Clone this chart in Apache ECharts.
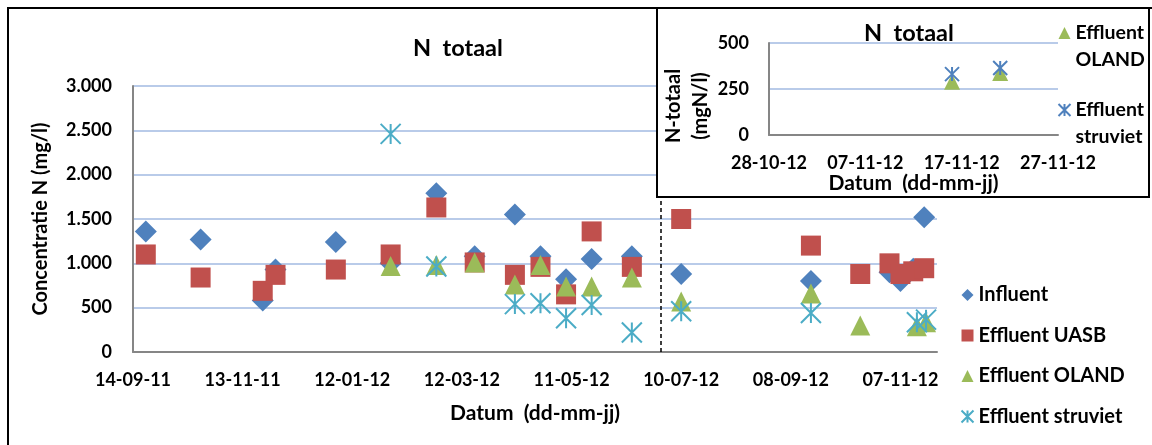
<!DOCTYPE html>
<html>
<head>
<meta charset="utf-8">
<script src="https://cdn.jsdelivr.net/npm/echarts@6/dist/echarts.min.js"></script>
<style>
  html, body { margin: 0; padding: 0; background: #fff; }
  #chart { width: 1152px; height: 445px; }
</style>
</head>
<body>
<div id="chart"></div>
<script>
// main chart data (dates dd-mm-yy)
const influentDates = ['21-09-11', '21-10-11', '24-11-11', '01-12-11', '03-01-12', '02-02-12', '27-02-12', '19-03-12', '10-04-12', '24-04-12', '08-05-12', '22-05-12', '13-06-12', '10-07-12', '19-09-12', '01-11-12', '07-11-12', '14-11-12', '20-11-12']
const influentValues = [1360, 1270, 580, 930, 1240, 1000, 1790, 1080, 1550, 1080, 820, 1050, 1080, 880, 800, 900, 800, 940, 1520]

const uasbDates = ['21-09-11', '21-10-11', '24-11-11', '01-12-11', '03-01-12', '02-02-12', '27-02-12', '19-03-12', '10-04-12', '24-04-12', '08-05-12', '22-05-12', '13-06-12', '10-07-12', '19-09-12', '16-10-12', '01-11-12', '07-11-12', '14-11-12', '20-11-12']
const uasbValues = [1100, 840, 690, 870, 930, 1100, 1630, 1010, 870, 960, 650, 1360, 960, 1500, 1200, 880, 1000, 880, 910, 945]

const olandDates = ['02-02-12', '27-02-12', '19-03-12', '10-04-12', '24-04-12', '08-05-12', '22-05-12', '13-06-12', '10-07-12', '19-09-12', '16-10-12', '16-11-12', '21-11-12']
const olandValues = [970, 980, 1010, 760, 980, 740, 740, 840, 570, 660, 300, 290, 335]

const struvietDates = ['02-02-12', '27-02-12', '10-04-12', '24-04-12', '08-05-12', '22-05-12', '13-06-12', '10-07-12', '19-09-12', '16-11-12', '21-11-12']
const struvietValues = [2460, 965, 540, 550, 380, 530, 220, 460, 440, 335, 365]

const breakDate = '29-06-12'

// inset chart data
const insetDates = ['16-11-12', '21-11-12']
const insetOland = [290, 337]
const insetStruviet = [331, 364]

const FONT = 'Lato'
const BASE = Date.UTC(2011, 8, 14)
const DAY = 86400000

function dayNum(s) {
  const p = s.split('-').map(Number)
  return Math.round((Date.UTC(2000 + p[2], p[1] - 1, p[0]) - BASE) / DAY)
}
function pad(n) {
  return (n < 10 ? '0' : '') + n
}
function fmtDay(v) {
  const d = new Date(BASE + v * DAY)
  return pad(d.getUTCDate()) + '-' + pad(d.getUTCMonth() + 1) + '-' + pad(d.getUTCFullYear() % 100)
}
function pairs(dates, values) {
  return dates.map((d, i) => [dayNum(d), values[i]])
}

const STAR = 'path://M0,0L10,10M10,0L0,10M5,0L5,10'
const bold = { fontFamily: FONT, fontWeight: 'bold', color: '#000' }
const gridColor = '#b9cbe9'

const chart = echarts.init(document.getElementById('chart'), null, { renderer: 'canvas' })

const option = {
  animation: false,
  backgroundColor: '#fff',
  title: [
    {
      text: 'N  totaal',
      left: 413,
      top: 36,
      padding: 0,
      textStyle: Object.assign({ fontSize: 23.5 }, bold)
    },
    {
      text: 'N  totaal',
      left: 864,
      top: 21,
      padding: 0,
      z: 22,
      textStyle: Object.assign({ fontSize: 23.5 }, bold)
    }
  ],
  legend: [
    {
      data: ['Influent', 'Effluent UASB', 'Effluent OLAND', 'Effluent struviet'],
      orient: 'vertical',
      left: 959,
      top: 285,
      padding: 0,
      itemWidth: 12,
      itemHeight: 12,
      itemGap: 20.5,
      selectedMode: false,
      textStyle: Object.assign({ fontSize: 20, lineHeight: 20 }, bold)
    },
    {
      // blank first line keeps the icon level with "Effluent"
      data: ['Effluent\nOLAND', 'Effluent\nstruviet'],
      formatter: name => '\n' + name,
      orient: 'vertical',
      left: 1056,
      top: -7.5,
      padding: 0,
      itemWidth: 12,
      itemHeight: 12,
      itemGap: -4,
      selectedMode: false,
      z: 22,
      textStyle: Object.assign({ fontSize: 19.5, lineHeight: 27 }, bold)
    }
  ],
  graphic: [
    {
      type: 'rect',
      z: 0,
      shape: { x: 8, y: 8, width: 1300, height: 600 },
      style: { fill: 'none', stroke: '#000', lineWidth: 2 }
    },
    {
      type: 'rect',
      z: 10,
      shape: { x: 657, y: 8, width: 492, height: 189 },
      style: { fill: '#fff', stroke: '#000', lineWidth: 2 }
    }
  ],
  grid: [
    { left: 133, top: 86, width: 804, height: 266 },
    { left: 769, top: 43, width: 289, height: 92 }
  ],
  xAxis: [
    {
      type: 'value',
      gridIndex: 0,
      min: 0,
      max: 440,
      interval: 60,
      name: 'Datum  (dd-mm-jj)',
      nameLocation: 'middle',
      nameGap: 51,
      nameTextStyle: Object.assign({ fontSize: 21 }, bold),
      axisLine: { show: true, lineStyle: { color: '#868686', width: 2 } },
      axisTick: { show: false },
      splitLine: { show: false },
      axisLabel: Object.assign({ fontSize: 18, margin: 19, showMaxLabel: false, formatter: fmtDay }, bold)
    },
    {
      type: 'value',
      gridIndex: 1,
      min: 410,
      max: 440,
      interval: 10,
      z: 20,
      name: 'Datum  (dd-mm-jj)',
      nameLocation: 'middle',
      nameGap: 37,
      nameTextStyle: Object.assign({ fontSize: 21 }, bold),
      axisLine: { show: true, lineStyle: { color: '#868686', width: 2 } },
      axisTick: { show: false },
      splitLine: { show: false },
      axisLabel: Object.assign({ fontSize: 18, margin: 19, formatter: fmtDay }, bold)
    }
  ],
  yAxis: [
    {
      type: 'value',
      gridIndex: 0,
      min: 0,
      max: 3000,
      interval: 500,
      name: 'Concentratie N (mg/l)',
      nameLocation: 'middle',
      nameGap: 82,
      nameTextStyle: Object.assign({ fontSize: 20 }, bold),
      axisLine: { show: true, lineStyle: { color: '#868686', width: 2 } },
      axisTick: { show: false },
      splitLine: { show: true, lineStyle: { color: gridColor, width: 2 } },
      axisLabel: Object.assign({
        fontSize: 18,
        margin: 21,
        formatter: v => (v >= 1000 ? (v / 1000).toFixed(3) : String(v))
      }, bold)
    },
    {
      type: 'value',
      gridIndex: 1,
      min: 0,
      max: 500,
      interval: 250,
      z: 20,
      name: 'N-totaal\n(mgN/l)',
      nameLocation: 'middle',
      nameGap: 50,
      nameTextStyle: Object.assign({ fontSize: 20, lineHeight: 27, padding: [0, 34, 0, 0] }, bold),
      axisLine: { show: true, lineStyle: { color: '#868686', width: 2 } },
      axisTick: { show: false },
      splitLine: { show: true, lineStyle: { color: gridColor, width: 2 } },
      axisLabel: Object.assign({ fontSize: 18, margin: 20 }, bold)
    }
  ],
  series: [
    {
      name: 'Influent',
      type: 'scatter',
      xAxisIndex: 0,
      yAxisIndex: 0,
      symbol: 'diamond',
      symbolSize: 22,
      itemStyle: { color: '#4f81bd', opacity: 1 },
      data: pairs(influentDates, influentValues),
      markLine: {
        silent: true,
        symbol: 'none',
        label: { show: false },
        lineStyle: { color: '#000', type: [4, 3], width: 1.5 },
        data: [{ xAxis: dayNum(breakDate) }]
      }
    },
    {
      name: 'Effluent UASB',
      type: 'scatter',
      xAxisIndex: 0,
      yAxisIndex: 0,
      symbol: 'rect',
      symbolSize: 20,
      itemStyle: { color: '#c0504d', opacity: 1 },
      data: pairs(uasbDates, uasbValues)
    },
    {
      name: 'Effluent OLAND',
      type: 'scatter',
      xAxisIndex: 0,
      yAxisIndex: 0,
      symbol: 'triangle',
      symbolSize: 20,
      itemStyle: { color: '#9bbb59', opacity: 1 },
      data: pairs(olandDates, olandValues)
    },
    {
      name: 'Effluent struviet',
      type: 'scatter',
      xAxisIndex: 0,
      yAxisIndex: 0,
      symbol: STAR,
      symbolSize: 20,
      itemStyle: { color: 'none', borderColor: '#4bacc6', borderWidth: 2, opacity: 1 },
      data: pairs(struvietDates, struvietValues)
    },
    {
      name: 'Effluent\nOLAND',
      type: 'scatter',
      xAxisIndex: 1,
      yAxisIndex: 1,
      z: 21,
      symbol: 'triangle',
      symbolSize: 16,
      itemStyle: { color: '#9bbb59', opacity: 1 },
      data: pairs(insetDates, insetOland)
    },
    {
      name: 'Effluent\nstruviet',
      type: 'scatter',
      xAxisIndex: 1,
      yAxisIndex: 1,
      z: 21,
      symbol: STAR,
      symbolSize: 14,
      itemStyle: { color: 'none', borderColor: '#4f81bd', borderWidth: 2, opacity: 1 },
      data: pairs(insetDates, insetStruviet)
    }
  ]
}

chart.setOption(option)
window.addEventListener('resize', () => chart.resize())
</script>
</body>
</html>
